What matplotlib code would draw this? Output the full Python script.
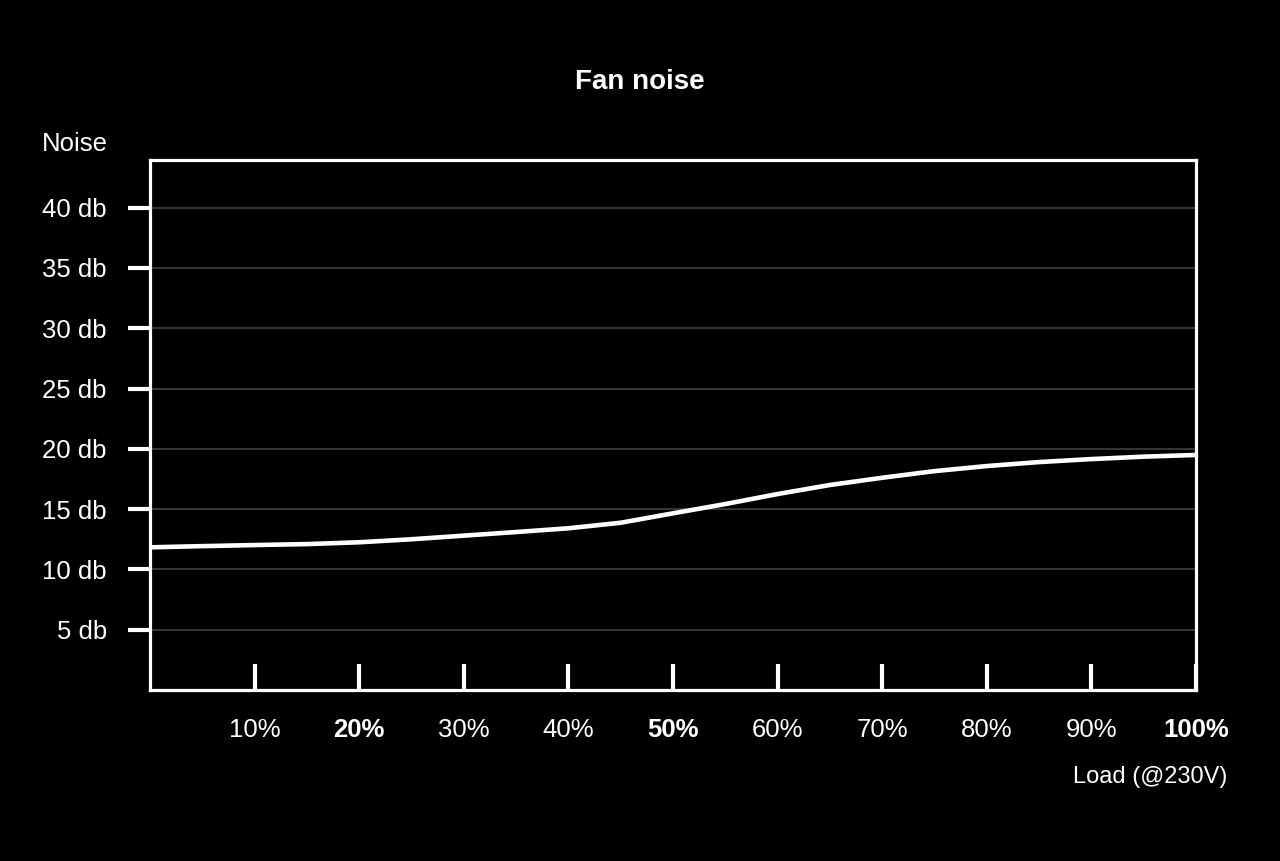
import matplotlib
matplotlib.use("Agg")
from matplotlib import pyplot as plt

# load in %, noise in db
load = [0, 5, 10, 15, 20, 25, 30, 35, 40, 45, 50, 55, 60, 65, 70, 75, 80, 85, 90, 95, 100]
noise = [11.83, 11.93, 12.02, 12.1, 12.25, 12.5, 12.8, 13.1, 13.41, 13.87, 14.65,
         15.42, 16.25, 17.0, 17.6, 18.15, 18.57, 18.9, 19.15, 19.35, 19.49]

y_ticks = [5, 10, 15, 20, 25, 30, 35, 40]
y_labels = ["5 db", "10 db", "15 db", "20 db", "25 db", "30 db", "35 db", "40 db"]
x_ticks = [10, 20, 30, 40, 50, 60, 70, 80, 90, 100]
x_labels = ["10%", "20%", "30%", "40%", "50%", "60%", "70%", "80%", "90%", "100%"]
bold_labels = ["20%", "50%", "100%"]

plt.rcParams['font.family'] = ['Liberation Sans', 'DejaVu Sans']

fig = plt.figure(figsize=(12.8, 8.61), dpi=100, facecolor="black")
ax = fig.add_axes([150 / 1280, 1 - 690 / 861, (1196 - 150) / 1280, (690 - 160) / 861])
ax.set_facecolor("black")

ax.plot(load, noise, color="white", lw=3.3, solid_capstyle="butt",
        solid_joinstyle="round", zorder=3)

ax.set_xlim(0, 100)
ax.set_ylim(0, 43.95)

for s in ax.spines.values():
    s.set_color("white")
    s.set_linewidth(2.3)

ax.set_yticks(y_ticks)
ax.set_yticklabels(y_labels)
ax.tick_params(axis="y", direction="out", length=16, width=3, color="white",
               labelcolor="white", labelsize=18.5, pad=15)
ax.grid(axis="y", color="#3a3a3a", lw=1.3)
ax.set_axisbelow(True)

ax.set_xticks(x_ticks)
ax.set_xticklabels(x_labels)
ax.tick_params(axis="x", direction="in", length=19, width=3, color="white",
               labelcolor="white", labelsize=18.5, pad=20)
for lab in ax.get_xticklabels():
    if lab.get_text() in bold_labels:
        lab.set_fontweight("bold")

fig.text(0.5, 1 - 82 / 861, "Fan noise", color="white", fontsize=20, fontweight="bold",
         ha="center", va="center")
fig.text(42 / 1280, 1 - 144 / 861, "Noise", color="white", fontsize=18.5,
         ha="left", va="center")
fig.text(1227 / 1280, 1 - 777 / 861, "Load (@230V)", color="white", fontsize=17,
         ha="right", va="center")

fig.savefig("out.png", dpi=100, facecolor="black")
